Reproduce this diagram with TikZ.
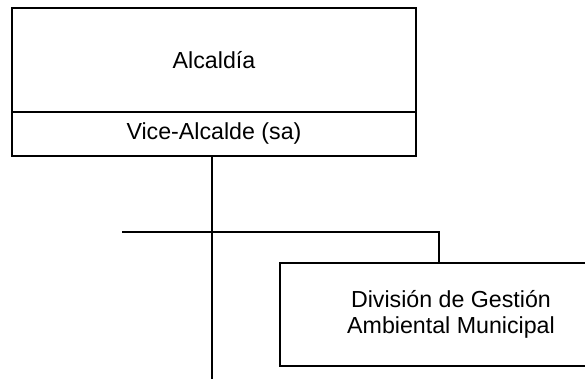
\documentclass[tikz,border=0pt]{standalone}
\usepackage{fontspec}
\setmainfont{Liberation Sans}
\usetikzlibrary{positioning}
\begin{document}
\begin{tikzpicture}[x=1pt, y=1pt, line width=1.3pt, line join=miter,
	font=\fontsize{23.2}{26}\selectfont,
	caja/.style={draw, rectangle, inner sep=0pt, outer sep=0pt, align=center}]
	\useasboundingbox (0,0) rectangle (585,379);
	\clip (0,0) rectangle (585,379);
	\node[caja, minimum width=404pt, minimum height=104pt, anchor=north west] (alcaldia) at (12,371) {Alcaldía};
	\node[caja, minimum width=404pt, minimum height=44pt, below=0pt of alcaldia] (vice) {Vice-Alcalde (sa)};
	\node[caja, minimum width=342pt, minimum height=103pt, anchor=north west] (division) at (280,116) {División de Gestión\\Ambiental Municipal};
	\coordinate (fin) at (212,0);
	\coordinate (izq) at (122,147);
	\coordinate (der) at (439,147);
	\draw (fin |- vice.south) -- (fin);
	\draw (izq) -- (der) -- (der |- division.north);
\end{tikzpicture}
\end{document}
